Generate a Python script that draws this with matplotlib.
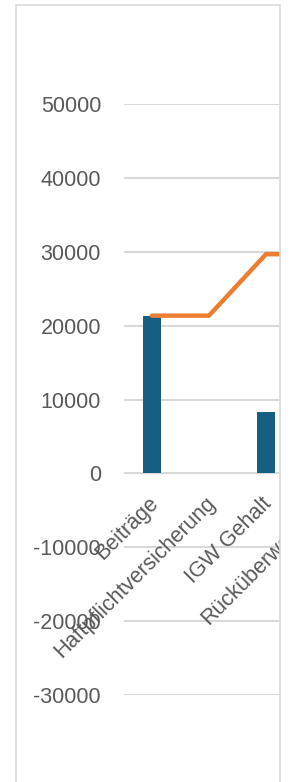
import matplotlib
matplotlib.use("Agg")
import matplotlib.pyplot as plt
import matplotlib.transforms as mtransforms
import numpy as np
from matplotlib.patches import Rectangle

plt.rcParams["font.family"] = ["Liberation Sans", "DejaVu Sans"]

# data
CATEGORIES = ["Beiträge", "Haftpflichtversicherung", "IGW Gehalt", "Rücküberweisung"]
BAR_VALUES = [21350, 0, 8320, 0]
RUNNING_TOTAL = np.cumsum(BAR_VALUES)
Y_TICKS = [-30000, -20000, -10000, 0, 10000, 20000, 30000, 40000, 50000]

BAR_COLOR = "#175f82"
LINE_COLOR = "#ed7d31"
GRID_COLOR = "#d9d9d9"
TEXT_COLOR = "#595959"

W, H = 293, 782
fig = plt.figure(figsize=(W / 100, H / 100), dpi=100)

# chart frame (cropped on the right and bottom)
fig.patches.append(Rectangle((16 / W, -0.1), (280 - 16) / W, 1.1 - 5 / H,
                             transform=fig.transFigure, fill=False,
                             edgecolor=GRID_COLOR, linewidth=1.2))

ax = fig.add_axes([124 / W, 1 - 695 / H, (280 - 124) / W, (695 - 104) / H])
x = np.arange(len(CATEGORIES))
ax.bar(x, BAR_VALUES, width=0.32, color=BAR_COLOR, zorder=3)
ax.plot(x, RUNNING_TOTAL, color=LINE_COLOR, linewidth=3.2,
        solid_capstyle="round", solid_joinstyle="miter", zorder=4)

ax.set_yticks(Y_TICKS)
ax.set_yticklabels([str(v) for v in Y_TICKS])
ax.set_xticks([])
ax.set_xlim(-0.49, 2.246)
ax.set_ylim(-30000, 50000)
ax.yaxis.grid(True, color=GRID_COLOR, linewidth=1.5, zorder=0)
ax.set_axisbelow(True)
for s in ax.spines.values():
    s.set_visible(False)
ax.tick_params(axis="both", length=0, labelsize=15.5, labelcolor=TEXT_COLOR)
ax.tick_params(axis="y", pad=16.5)

# category labels sit under the zero line, cut off where the chart is cropped
clip = Rectangle((0, 0), 280 / W, 1, transform=fig.transFigure)
lbl_tr = mtransforms.offset_copy(ax.transData, fig=fig, x=3, y=-27, units="dots")
for i, name in enumerate(CATEGORIES):
    t = ax.text(i, 0, name, transform=lbl_tr, rotation=45, ha="right",
                va="center", rotation_mode="anchor", fontsize=15.5,
                color=TEXT_COLOR, clip_on=True)
    t.set_clip_path(clip)

fig.savefig("out.png", dpi=100, facecolor="white")
